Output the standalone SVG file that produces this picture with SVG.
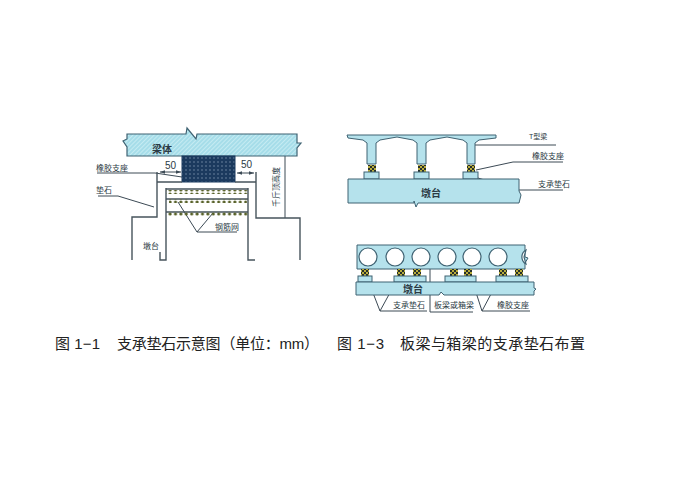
<svg xmlns="http://www.w3.org/2000/svg" width="674" height="483" viewBox="0 0 674 483">
<style>
text{font-family:"Liberation Sans","Noto Sans CJK SC",sans-serif;fill:#2b3a44}
.s{font-size:8px}
.m{font-size:10px;font-weight:bold}
.d{font-size:10px}
.c{font-size:15px;fill:#222}
.l{fill:none;stroke:#3c4a55;stroke-width:1}
.k{fill:none;stroke:#47545c;stroke-width:1.4}
.p{fill:#b5e2ec;stroke:#3f6272;stroke-width:1}
.h{fill:url(#hatch);stroke:#3f6272;stroke-width:1.2}
</style>
<defs>
<pattern id="hatch" width="3" height="3" patternUnits="userSpaceOnUse" patternTransform="rotate(45)"><rect width="3" height="3" fill="#a6dde9"/><rect width="1" height="3" fill="#c5ebf2"/></pattern>
<pattern id="mesh" width="4" height="4" patternUnits="userSpaceOnUse"><rect width="4" height="4" fill="#1b3a5e"/><circle cx="2" cy="2" r=".8" fill="#6f87a3"/></pattern>
<pattern id="pad" width="4" height="4" patternUnits="userSpaceOnUse"><rect width="4" height="4" fill="#b9ad3c"/><rect width="2" height="2" fill="#26302a"/><rect x="2" y="2" width="2" height="2" fill="#26302a"/></pattern>
<pattern id="bar" width="5.4" height="4" patternUnits="userSpaceOnUse"><circle cx="2.7" cy="2" r="1.6" fill="#59622a"/></pattern>
<marker id="a" viewBox="0 0 6 6" refX="6" refY="3" markerWidth="5" markerHeight="5" orient="auto-start-reverse"><path d="M0 1L6 3L0 5Z" fill="#3c4a55"/></marker>
</defs>
<rect width="674" height="483" fill="#fff"/>
<g id="connectors">
<path class="l" d="M97 173H155L182 177M98 196H118L154 207M178 202L197 232L213 213M197 232H237"/>
<path class="l" d="M285 156V218"/>
<path class="l" marker-start="url(#a)" marker-end="url(#a)" d="M160 172H181"/>
<path class="l" marker-start="url(#a)" marker-end="url(#a)" d="M237 173H254"/>
<path class="l" d="M475 145H556M476 170L513 162H563M478 178L517 190H563"/>
<path class="l" d="M368 280L380 311L398 278M380 311H427M430 269V312H473M471 277L482 311L500 277M482 311H530"/>
</g>
<g id="fig1-beam">
<path class="h" d="M127 134H186L187 128L196 139L197 134H297V143L301 143L297 148V156H127V147L123 141L127 139Z"/>
<text class="m" x="152" y="153">梁体</text>
</g>
<g id="fig1-bearing">
<rect x="182" y="156" width="53" height="26" fill="url(#mesh)" stroke="#1b3a5e"/>
</g>
<g id="fig1-pier">
<path class="k" d="M157 172V217H132V260M256 172V218H300V260M157 182H182M235 182H256M166 188V260H160V252M248 188V260H255M166 189H248M166 199H248M166 212H248"/>
<rect x="166" y="190" width="82" height="4" fill="url(#bar)"/>
<rect x="169" y="199" width="78" height="4" fill="url(#bar)"/>
<rect x="168" y="212" width="80" height="4" fill="url(#bar)"/>
<text class="s" x="143" y="249">墩台</text>
</g>
<g id="fig1-labels">
<text class="s" x="96" y="171">橡胶支座</text>
<text class="s" x="96" y="193">垫石</text>
<text class="s" x="215" y="230">钢筋网</text>
<text class="d" x="165" y="169">50</text>
<text class="d" x="241" y="168">50</text>
<text class="s" transform="translate(279 207) rotate(-90)" textLength="40">千斤顶高度</text>
</g>
<g id="fig3-tbeam">
<path class="p" d="M347 135H496V138L479 140L475 143V164H467V143L463 140L447 137L430 140L426 143V164H417V143L413 140L397 137L380 140L376 143V164H367V143L363 140L348 138Z"/>
<rect x="368" y="165" width="8" height="7" fill="url(#pad)"/>
<rect x="418" y="165" width="8" height="7" fill="url(#pad)"/>
<rect x="467" y="165" width="8" height="7" fill="url(#pad)"/>
<rect x="364" y="172" width="15" height="7" class="p"/>
<rect x="414" y="172" width="15" height="7" class="p"/>
<rect x="463" y="172" width="15" height="7" class="p"/>
</g>
<g id="fig3-pier">
<path class="p" d="M348 179H519V191L521 195L519 203H418L416 207L414 201V203H348Z"/>
<text class="m" x="421" y="197">墩台</text>
</g>
<g id="fig3-labels">
<text x="529" y="139" font-size="7">T型梁</text>
<text class="s" x="532" y="159">橡胶支座</text>
<text class="s" x="538" y="187">支承垫石</text>
</g>
<g id="fig3-slab">
<path class="p" d="M357 245H525V257L528 258L525 263V269H357Z"/>
<g fill="#fff" stroke="#3f6272" stroke-width="1.2">
<circle cx="368" cy="257" r="9"/><circle cx="395" cy="257" r="9"/><circle cx="421" cy="257" r="9"/><circle cx="447" cy="257" r="9"/><circle cx="472" cy="257" r="9"/><circle cx="498" cy="257" r="9"/><path d="M526 250A8 8 0 0 0 526 264L524 257Z"/>
</g>
<g fill="url(#pad)">
<rect x="361" y="269" width="8" height="7"/><rect x="397" y="269" width="8" height="7"/><rect x="413" y="269" width="8" height="7"/><rect x="450" y="269" width="8" height="7"/><rect x="464" y="269" width="8" height="7"/><rect x="499" y="269" width="8" height="7"/><rect x="515" y="269" width="8" height="7"/>
</g>
<rect x="358" y="276" width="14" height="6" class="p"/>
<rect x="394" y="276" width="32" height="6" class="p"/>
<rect x="445" y="276" width="31" height="6" class="p"/>
<rect x="496" y="276" width="32" height="6" class="p"/>
<path class="p" d="M356 282H534V288L536 289L534 291V295H444L441 292L439 295H356Z"/>
<text class="m" x="403" y="293">墩台</text>
<text class="s" x="393" y="308">支承垫石</text>
<text class="s" x="434" y="308">板梁或箱梁</text>
<text class="s" x="497" y="308">橡胶支座</text>
</g>
<g id="captions">
<text class="c" x="55" y="349" textLength="45">图 1−1</text>
<text class="c" x="117" y="349" textLength="202">支承垫石示意图（单位：mm）</text>
<text class="c" x="337" y="349" textLength="47">图 1−3</text>
<text class="c" x="400" y="349" textLength="185">板梁与箱梁的支承垫石布置</text>
</g>
</svg>
